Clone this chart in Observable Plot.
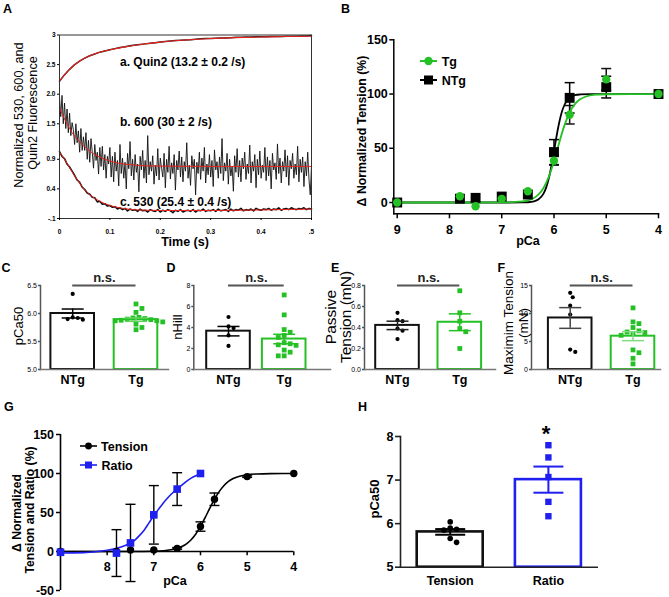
<!DOCTYPE html>
<html><head><meta charset="utf-8">
<script src="https://cdn.jsdelivr.net/npm/d3@7"></script>
<script src="https://cdn.jsdelivr.net/npm/@observablehq/plot@0.6"></script>
<style>
body{margin:0;background:#fff}
#fig{position:relative;width:669px;height:597px;overflow:hidden;background:#fff}
#fig svg{position:absolute;left:0;top:0}
</style></head><body><div id="fig"></div>
<script>
// ================= DATA =================
// Panel A: stopped-flow traces (normalized fluorescence vs time, s)
const traceAStep = 0.01;
const traceA = [
 2.22,2.33,2.42,2.50,2.56,2.61,2.65,2.68,2.71,2.73,
 2.75,2.77,2.79,2.80,2.82,2.83,2.84,2.85,2.86,2.87,
 2.88,2.89,2.90,2.905,2.91,2.915,2.92,2.93,2.935,2.94,
 2.94,2.945,2.95,2.95,2.955,2.96,2.96,2.965,2.965,2.97,
 2.97,2.97,2.975,2.975,2.975,2.98,2.98,2.98,2.985,2.985,
 2.99];
const traceBStep = 0.0025;
const traceB = [
 1.95,1.62,1.98,1.50,1.85,1.42,1.75,1.35,1.68,1.30,
 1.52,1.40,1.15,1.50,1.18,1.38,1.02,1.42,1.05,1.28,
 1.05,1.35,0.90,1.22,0.85,1.25,1.02,0.75,1.15,0.88,
 1.02,0.65,1.10,0.78,1.12,0.72,0.98,0.58,0.95,0.82,
 1.10,0.60,0.95,0.52,1.02,0.70,0.88,0.45,1.15,0.66,
 0.92,0.58,0.85,0.40,1.00,0.74,1.20,0.62,0.90,0.55,
 0.98,0.68,0.82,0.35,0.95,0.72,1.05,0.58,0.88,0.50,
 1.30,0.64,0.86,0.70,0.96,0.48,0.80,0.62,1.08,0.55,
 0.92,0.75,0.60,1.00,0.42,0.90,0.68,1.12,0.57,0.84,
 0.66,0.98,0.38,0.88,0.72,1.04,0.60,0.94,0.52,0.86,
 0.70,1.18,0.58,0.80,0.46,0.96,0.74,0.90,0.30,0.85,
 0.66,1.02,0.56,0.92,0.70,1.10,0.50,0.82,0.64,0.98,
 0.60,0.88,0.44,1.06,0.72,0.86,0.58,0.94,0.66,1.25,
 0.54,0.84,0.70,1.00,0.48,0.90,0.62,0.78,0.36,0.96,
 0.68,1.08,0.60,0.88,0.52,0.92,0.74,1.02,0.56,0.82,
 0.66,1.14,0.50,0.86,0.70,0.98,0.42,0.90,0.64,1.04,
 0.58,0.80,0.68,1.10,0.54,0.94,0.62,0.88,0.40,1.00,
 0.72,0.84,0.56,1.16,0.66,0.92,0.50,0.86,0.70,1.06,
 0.60,0.96,0.46,0.88,0.74,1.00,0.58,0.82,0.64,1.12,
 0.52,0.90,0.68,0.94,0.44,0.86,0.62,1.02,0.56,0.30,
 0.80];
const traceCStep = 0.005;
const traceC = [
 1.03,0.95,0.91,0.82,0.77,0.70,0.63,0.55,0.51,0.43,0.39,0.33,0.31,0.26,0.25,0.18,0.19,0.14,0.15,0.11,
 0.12,0.09,0.10,0.06,0.08,0.05,0.07,0.03,0.06,0.04,0.05,0.02,0.06,0.03,0.04,0.01,0.05,0.03,0.02,0.05,
 0.01,0.04,0.02,0.05,0.03,0.00,0.04,0.02,0.05,0.01,0.03,0.04,0.02,0.05,0.01,0.04,0.03,0.06,0.02,0.04,
 0.03,0.05,0.02,0.06,0.03,0.04,0.05,0.02,0.06,0.03,0.05,0.04,0.07,0.03,0.05,0.04,0.06,0.03,0.07,0.05,
 0.04,0.06,0.05,0.07,0.04,0.06,0.05,0.08,0.04,0.06,0.07,0.05,0.08,0.06,0.05,0.07,0.06,0.08,0.05,0.07,0.06];
const fitAT = [0,0.02,0.04,0.06,0.08,0.1,0.13,0.16,0.2,0.25,0.3,0.35,0.4,0.45,0.5];
const fitAV = [2.22,2.42,2.56,2.65,2.71,2.75,2.80,2.84,2.88,2.915,2.94,2.955,2.965,2.975,2.98];
const fitBT = [0,0.01,0.02,0.03,0.04,0.05,0.06,0.07,0.08,0.09,0.1,0.12,0.14,0.17,0.2,0.3,0.5];
const fitBV = [1.77,1.58,1.42,1.29,1.19,1.11,1.04,0.98,0.94,0.90,0.87,0.83,0.81,0.79,0.785,0.78,0.78];
const fitCT = [0,0.01,0.02,0.03,0.04,0.05,0.06,0.07,0.08,0.09,0.1,0.12,0.14,0.17,0.2,0.3,0.4,0.5];
const fitCV = [1.02,0.90,0.76,0.62,0.50,0.38,0.30,0.24,0.19,0.15,0.12,0.08,0.055,0.04,0.035,0.035,0.045,0.06];
const aYTicks = [3, 2.5, 2.0, 1.5, 0.9, 0.4, -0.1];
const aYTickLabels = ["3", "2.5", "2.0", "1.5", "0.9", "0.4", "-.1"];
const aXTicks = [0, 0.1, 0.2, 0.3, 0.4, 0.5];
const aXTickLabels = ["0", "0.1", "0.2", "0.3", "0.4", ".5"];
const aTraceLabels = ["a. Quin2 (13.2 \u00b1 0.2 /s)", "b. 600 (30 \u00b1 2 /s)", "c. 530 (25.4 \u00b1 0.4 /s)"];

// Panel B: pCa-tension, Tg vs NTg
const bPCa = [9, 7.8, 7.5, 7, 6.5, 6, 5.7, 5, 4];
const bTg = [0, 5.8, -3.4, 3.4, 10.4, 38.5, 80.9, 113.5, 100];
const bTgSem = [0, 0, 0, 0, 0, 4, 8.5, 10, 0];
const bNTg = [0, 3.5, 4.3, 5.5, 7.4, 46.5, 96.5, 106.4, 100];
const bNTgSem = [0, 0, 0, 0, 0, 11.5, 14, 10, 0];
const bFitTgX = [9,8,7,6.6,6.5,6.4,6.3,6.2,6.1,6.05,6.0,5.95,5.9,5.85,5.8,5.7,5.6,5.5,5.4,5.2,5,4.5,4];
const bFitTgY = [0,0,0.06,0.97,1.9,3.7,7.2,13.4,23.6,30.4,38.1,46.5,55.2,63.5,71.1,83.0,90.7,95.1,97.5,99.4,99.8,100,100];
const bFitNTgX = [9,8,7,6.6,6.4,6.3,6.2,6.15,6.1,6.05,6.0,5.95,5.9,5.85,5.8,5.75,5.7,5.6,5.5,5.3,5,4];
const bFitNTgY = [0,0,0,0.09,0.88,2.7,8.2,13.7,22,33.4,47.1,61.3,73.8,83.4,89.9,94.1,96.6,98.9,99.6,99.96,100,100];
const bXTicks = [9, 8, 7, 6, 5, 4];
const bYTicks = [0, 50, 100, 150];
const bSeries = ["Tg", "NTg"];

// Panels C-F: NTg vs Tg bar + scatter
const groups = ["NTg", "Tg"];
const cNTg = [6.35, 5.93, 5.92, 5.90, 5.89];
const cTg = [6.17, 6.09, 6.02, 5.93, 5.92, 5.91, 5.90, 5.89, 5.88, 5.87, 5.87, 5.85, 5.81, 5.75, 5.71];
const cMean = [6.00, 5.89], cSem = [0.08, 0.03];
const cTicks = [5.0, 5.5, 6.0, 6.5];
const dNTg = [5.0, 4.1, 3.95, 3.25, 2.25];
const dTg = [7.1, 5.2, 3.8, 3.55, 3.25, 3.05, 2.55, 2.45, 2.35, 2.3, 1.85, 1.65, 1.3, 1.3];
const dMean = [3.65, 2.9], dSem = [0.45, 0.45];
const dTicks = [0, 2, 4, 6, 8];
const eNTg = [0.54, 0.47, 0.46, 0.39, 0.37, 0.29];
const eTg = [0.75, 0.54, 0.46, 0.39, 0.36, 0.20];
const eMean = [0.42, 0.45], eSem = [0.04, 0.08];
const eTicks = [0, 0.2, 0.4, 0.6, 0.8];
const fNTg = [13.7, 12.9, 11.4, 9.8, 3.56, 3.13];
const fTg = [11.0, 8.5, 8.2, 7.5, 6.9, 6.7, 6.6, 6.4, 6.1, 3.5, 3.0, 2.0, 1.0];
const fMean = [9.2, 5.95], fSem = [1.85, 0.8];
const fTicks = [0, 5, 10, 15];

// Panel G: tension vs ratio
const gPCa = [9, 7.8, 7.5, 7, 6.5, 6, 5.7, 5, 4];
const gTension = [0, 0, 2, 2, 4, 32, 67, 96, 100];
const gTensionSem = [0, 0, 0, 0, 1, 6, 8, 1, 0];
const gRatioPCa = [9, 7.8, 7.5, 7, 6.5, 6];
const gRatio = [-1, -2, 11, 47, 80, 100];
const gRatioSem = [0, 30, 49.5, 37.5, 21, 0];
const gFitTensionX = [9,8,7.5,7,6.8,6.6,6.4,6.3,6.2,6.1,6.0,5.9,5.8,5.7,5.6,5.5,5.4,5.3,5.2,5.0,4.8,4.5,4];
const gFitTensionY = [0,0,0.03,0.36,0.94,2.5,6.3,9.9,15.1,22.4,32.1,43.5,55.6,67.1,76.8,84.4,89.9,93.5,95.9,98.4,99.4,99.9,100];
const gFitRatioX = [9,8.5,8.2,8,7.8,7.6,7.5,7.4,7.3,7.2,7.1,7.0,6.9,6.8,6.7,6.6,6.5,6.4,6.3,6.2,6.1,6.0];
const gFitRatioY = [-2,-1.5,0,1.5,4,8,11,15,21,28,37,46,54,62,69,75,80,85,90,94,97,99.5];
const gXTicks = [8, 7, 6, 5, 4];
const gYTicks = [-50, 0, 50, 100, 150];
const gSeries = ["Tension", "Ratio"];

// Panel H: pCa50 tension vs ratio
const hNames = ["Tension", "Ratio"];
const hTension = [6.04, 5.90, 5.87, 5.85, 5.66, 5.57];
const hRatio = [7.8, 7.52, 7.07, 6.5, 6.17];
const hMean = [5.81, 7.01], hSem = [0.065, 0.3];
const hTicks = [5, 6, 7, 8];

// ================= RENDER =================
const W = 669, H = 597;
const FONT = '"Liberation Sans", Arial, Helvetica, sans-serif';
const base = {fontFamily: FONT, background: "transparent", overflow: "visible", color: "#000"};
const GREEN = "#25c025", BLUE = "#1f1ff0", RED = "#e8211c";
const intFmt = d => String(d);
const fig = document.getElementById("fig");
const capSymbol = {draw(ctx, size) { const w = Math.sqrt(size / Math.PI); ctx.moveTo(-w, 0); ctx.lineTo(w, 0); }};

function swarm(vals, center, pxX, pxY, d) {
  const idx = d3.range(vals.length).sort((a, b) => d3.descending(vals[a], vals[b]));
  const placed = [], out = [];
  for (const i of idx) {
    const y = vals[i] * pxY;
    let off = 0;
    for (let k = 0; k < 80; k++) {
      const c = (k % 2 ? 1 : -1) * Math.ceil(k / 2) * d * 0.55;
      if (placed.every(p => Math.hypot(p.x - c, p.y - y) >= d)) { off = c; break; }
    }
    placed.push({x: off, y});
    out[i] = center + off / pxX;
  }
  return out;
}
function frameBox(l, r, t, b) {
  return {width: W, height: H, marginLeft: l, marginRight: W - r, marginTop: t, marginBottom: H - b};
}

// ---- Panel A ----
{
  const rowsA = traceA.map((v, i) => ({t: i * traceAStep, v}));
  const rowsB = traceB.map((v, i) => ({t: i * traceBStep, v}));
  const rowsC = traceC.map((v, i) => ({t: i * traceCStep, v}));
  const fa = fitAT.map((t, i) => ({t, v: fitAV[i]}));
  const fb = fitBT.map((t, i) => ({t, v: fitBV[i]}));
  const fc = fitCT.map((t, i) => ({t, v: fitCV[i]}));
  const yl = new Map(aYTicks.map((d, i) => [d, aYTickLabels[i]]));
  const xl = new Map(aXTicks.map((d, i) => [d, aXTickLabels[i]]));
  fig.append(Plot.plot({
    ...frameBox(59, 311, 34.5, 218),
    style: {...base, fontSize: "6.5px", fontWeight: "bold"},
    x: {domain: [0, 0.5]}, y: {domain: [-0.1, 3]},
    marks: [
      Plot.line(rowsA, {x: "t", y: "v", stroke: "#222", strokeWidth: 1.5}),
      Plot.line(rowsB, {x: "t", y: "v", stroke: "#111", strokeWidth: 0.9}),
      Plot.line(rowsC, {x: "t", y: "v", stroke: "#111", strokeWidth: 1.6}),
      Plot.line(fa, {x: "t", y: "v", stroke: RED, strokeWidth: 1.1, curve: "monotone-x"}),
      Plot.line(fb, {x: "t", y: "v", stroke: RED, strokeWidth: 1, curve: "monotone-x"}),
      Plot.line(fc, {x: "t", y: "v", stroke: RED, strokeWidth: 1, curve: "monotone-x"}),
      Plot.frame({stroke: "#333", strokeWidth: 1}),
      Plot.axisY({ticks: aYTicks, tickFormat: d => yl.get(d), tickSize: 2, tickPadding: 2, label: null}),
      Plot.axisX({ticks: aXTicks, tickFormat: d => xl.get(d), tickSize: 2, tickPadding: 8.5, label: null})
    ]
  }));
}

// ---- Panel B ----
{
  const tg = bPCa.map((p, i) => ({p, v: bTg[i], lo: bTg[i] - bTgSem[i], hi: bTg[i] + bTgSem[i], s: bTgSem[i]}));
  const ntg = bPCa.map((p, i) => ({p, v: bNTg[i], lo: bNTg[i] - bNTgSem[i], hi: bNTg[i] + bNTgSem[i], s: bNTgSem[i]}));
  const ftg = bFitTgX.map((p, i) => ({p, v: bFitTgY[i]}));
  const fntg = bFitNTgX.map((p, i) => ({p, v: bFitNTgY[i]}));
  const eN = ntg.filter(d => d.s > 0), eT = tg.filter(d => d.s > 0);
  fig.append(Plot.plot({
    ...frameBox(393.3, 658, 39.3, 213.3),
    style: {...base, fontSize: "12.5px", fontWeight: "bold"},
    x: {domain: [9, 4], insetLeft: 3.4}, y: {domain: [-10.4, 150]},
    marks: [
      Plot.frame({anchor: "left", strokeWidth: 1.5}),
      Plot.frame({anchor: "bottom", strokeWidth: 1.5}),
      Plot.axisY({ticks: bYTicks, tickFormat: intFmt, tickSize: 4, tickPadding: 2, strokeWidth: 1.5, label: null}),
      Plot.axisX({ticks: bXTicks, tickFormat: intFmt, tickSize: 5, tickPadding: 6, strokeWidth: 1.5, label: null}),
      Plot.ruleX(eN, {x: "p", y1: "lo", y2: "hi", stroke: "#000", strokeWidth: 1.5}),
      Plot.dot(eN, {x: "p", y: "hi", symbol: capSymbol, r: 5, stroke: "#000", fill: "none", strokeWidth: 1.5}),
      Plot.dot(eN, {x: "p", y: "lo", symbol: capSymbol, r: 5, stroke: "#000", fill: "none", strokeWidth: 1.5}),
      Plot.ruleX(eT, {x: "p", y1: "lo", y2: "hi", stroke: "#111", strokeWidth: 1.5}),
      Plot.dot(eT, {x: "p", y: "hi", symbol: capSymbol, r: 5, stroke: "#111", fill: "none", strokeWidth: 1.5}),
      Plot.dot(eT, {x: "p", y: "lo", symbol: capSymbol, r: 5, stroke: "#111", fill: "none", strokeWidth: 1.5}),
      Plot.line(fntg, {x: "p", y: "v", stroke: "#000", strokeWidth: 1.8, curve: "monotone-x"}),
      Plot.line(ftg, {x: "p", y: "v", stroke: GREEN, strokeWidth: 1.8, curve: "monotone-x"}),
      Plot.dot(ntg, {x: "p", y: "v", symbol: "square", r: 5.6, fill: "#000"}),
      Plot.dot(tg, {x: "p", y: "v", symbol: "circle", r: 4.2, fill: GREEN})
    ]
  }));
}

// ---- Bar panels (C-F, H) ----
function barPanel(o) {
  const u = o.c1 - o.c0;
  const pxY = (o.bottom - o.top) / (o.yDomain[1] - o.yDomain[0]);
  const hw = o.halfPx / u;
  const rows = o.names.map((name, i) => ({i, name, mean: o.mean[i], lo: o.mean[i] - o.sem[i], hi: o.mean[i] + o.sem[i], color: o.colors[i], err: o.errColors[i]}));
  const xs0 = swarm(o.pts0, 0, u, pxY, o.d0);
  const xs1 = swarm(o.pts1, 1, u, pxY, o.d1);
  const p0 = o.pts0.map((v, k) => ({x: xs0[k], v}));
  const p1 = o.pts1.map((v, k) => ({x: xs1[k], v}));
  const marks = [
    Plot.rectY(rows, {x1: d => d.i - hw, x2: d => d.i + hw, y1: () => o.yDomain[0], y2: "mean", fill: "white", stroke: "color", strokeWidth: o.barStroke}),
    Plot.dot(p0, {x: "x", y: "v", r: o.r0, fill: o.ptColors[0], symbol: "circle"}),
    Plot.dot(p1, {x: "x", y: "v", r: o.r1, fill: o.ptColors[1], symbol: "square"}),
    Plot.ruleX(rows, {x: "i", y1: "lo", y2: "hi", stroke: "err", strokeWidth: o.errStroke}),
    Plot.dot(rows, {x: "i", y: "hi", symbol: capSymbol, r: o.capPx, stroke: "err", fill: "none", strokeWidth: o.errStroke}),
    Plot.dot(rows, {x: "i", y: "lo", symbol: capSymbol, r: o.capPx, stroke: "err", fill: "none", strokeWidth: o.errStroke}),
    Plot.frame({anchor: "left", stroke: o.axisColor, strokeWidth: o.axisStroke}),
    Plot.frame({anchor: "bottom", stroke: o.xAxisColor, strokeWidth: o.axisStroke}),
    Plot.axisY({ticks: o.ticks, tickFormat: o.fmt, tickSize: o.tickSize, tickPadding: o.tickPadding, fontSize: o.tickFont, fontWeight: o.tickWeight, stroke: o.axisColor, strokeWidth: o.axisStroke, label: null}),
    Plot.axisX({ticks: [0, 1], tickFormat: d => o.names[d], tickSize: 0, tickPadding: o.xPad, fontSize: 12.5, fontWeight: "bold", label: null})
  ];
  if (o.ns) {
    marks.push(
      Plot.ruleY([o.yDomain[1]], {x1: () => 0, x2: () => 1, stroke: "#555", strokeWidth: 2}),
      Plot.text(["n.s."], {x: () => 0.5, y: () => o.yDomain[1], text: d => d, dy: -7.5, fontSize: 13, fontWeight: "bold", fill: "#222"})
    );
  }
  fig.append(Plot.plot({
    ...frameBox(o.left, o.right, o.top, o.bottom),
    style: {...base, fontSize: o.tickFont + "px", fontWeight: o.tickWeight},
    x: {domain: [(o.left - o.c0) / u, (o.right - o.c0) / u]},
    y: {domain: o.yDomain},
    color: {type: "identity"},
    marks
  }));
}
const smallCommon = {top: 285, bottom: 369, names: groups, colors: ["#111", GREEN], ptColors: ["#000", GREEN],
  halfPx: 21.8, barStroke: 2, errStroke: 1.5, capPx: 11, r0: 2.1, r1: 2.7, d0: 4.6, d1: 5.4,
  axisColor: "#555", xAxisColor: "#777", axisStroke: 1.5, tickSize: 2, tickPadding: 1.5, tickFont: 7, tickWeight: "normal", xPad: 5.5, ns: true};
barPanel({...smallCommon, left: 40, right: 168, c0: 72.2, c1: 135.5, yDomain: [5, 6.5], ticks: cTicks, fmt: d3.format(".1f"),
  mean: cMean, sem: cSem, pts0: cNTg, pts1: cTg, errColors: ["#000", "#5fd35f"]});
barPanel({...smallCommon, left: 193.3, right: 330, c0: 228, c1: 283.7, yDomain: [0, 8], ticks: dTicks, fmt: d3.format("d"),
  mean: dMean, sem: dSem, pts0: dNTg, pts1: dTg, errColors: ["#000", GREEN]});
barPanel({...smallCommon, left: 364, right: 495, c0: 397, c1: 459.3, yDomain: [0, 0.8], ticks: eTicks, fmt: d3.format(".1f"),
  mean: eMean, sem: eSem, pts0: eNTg, pts1: eTg, errColors: ["#222", GREEN]});
barPanel({...smallCommon, left: 531, right: 660, c0: 569.7, c1: 632.5, yDomain: [0, 15], ticks: fTicks, fmt: d3.format("d"),
  mean: fMean, sem: fSem, pts0: fNTg, pts1: fTg, errColors: ["#444", "#7fdc7f"]});
barPanel({top: 436, bottom: 566.7, left: 400, right: 596.7, c0: 449.7, c1: 547.9, names: hNames,
  colors: ["#111", BLUE], ptColors: ["#000", BLUE], halfPx: 33, barStroke: 2.6, errStroke: 2, capPx: 15,
  r0: 2.8, r1: 3.6, d0: 5.8, d1: 6.5, axisColor: "#222", xAxisColor: "#222", axisStroke: 1.6,
  tickSize: 5, tickPadding: 2, tickFont: 12.5, tickWeight: "bold", xPad: 9, ns: false,
  yDomain: [5, 8], ticks: hTicks, fmt: d3.format("d"), mean: hMean, sem: hSem, pts0: hTension, pts1: hRatio,
  errColors: ["#000", BLUE]});

// ---- Panel G ----
{
  const ten = gPCa.map((p, i) => ({p, v: gTension[i], lo: gTension[i] - gTensionSem[i], hi: gTension[i] + gTensionSem[i], s: gTensionSem[i]}));
  const rat = gRatioPCa.map((p, i) => ({p, v: gRatio[i], lo: gRatio[i] - gRatioSem[i], hi: gRatio[i] + gRatioSem[i], s: gRatioSem[i]}));
  const errs = ten.filter(d => d.s > 0).concat(rat.filter(d => d.s > 0));
  const fT = gFitTensionX.map((p, i) => ({p, v: gFitTensionY[i]}));
  const fR = gFitRatioX.map((p, i) => ({p, v: gFitRatioY[i]}));
  const gX = [9, 4], gY = [-50, 150];
  fig.append(Plot.plot({
    ...frameBox(60, 293.3, 434, 551.3),
    style: {...base, fontSize: "12.5px", fontWeight: "bold"},
    x: {domain: gX}, y: {domain: gY, range: [590, 434]},
    marks: [
      Plot.ruleX([gX[0]], {y1: () => gY[0], y2: () => gY[1], strokeWidth: 1.6}),
      Plot.ruleY([0], {strokeWidth: 1.6}),
      Plot.axisY({ticks: gYTicks, tickFormat: intFmt, tickSize: 4, tickPadding: 2.5, strokeWidth: 1.5, label: null}),
      Plot.axisX({ticks: gXTicks, tickFormat: intFmt, tickSize: 4, tickPadding: 6, strokeWidth: 1.5, label: null}),
      Plot.line(fT, {x: "p", y: "v", stroke: "#000", strokeWidth: 1.6, curve: "monotone-x"}),
      Plot.line(fR, {x: "p", y: "v", stroke: BLUE, strokeWidth: 1.6, curve: "monotone-x"}),
      Plot.ruleX(errs, {x: "p", y1: "lo", y2: "hi", stroke: "#000", strokeWidth: 1.4}),
      Plot.dot(errs, {x: "p", y: "hi", symbol: capSymbol, r: 5, stroke: "#000", fill: "none", strokeWidth: 1.4}),
      Plot.dot(errs, {x: "p", y: "lo", symbol: capSymbol, r: 5, stroke: "#000", fill: "none", strokeWidth: 1.4}),
      Plot.dot(ten, {x: "p", y: "v", symbol: "circle", r: 3.7, fill: "#000"}),
      Plot.dot(rat, {x: "p", y: "v", symbol: "square", r: 4.3, fill: BLUE})
    ]
  }));
}

// ---- Annotations (titles, legends, panel letters) ----
const ann = d3.select(fig).append("svg").attr("width", W).attr("height", H)
  .style("font-family", FONT).style("pointer-events", "none");
function label(x, y, s, size, weight = "bold", anchor = "start", rot = false, fill = "#000") {
  const t = ann.append("text").attr("x", x).attr("y", y).text(s)
    .attr("font-size", size).attr("font-weight", weight).attr("text-anchor", anchor).attr("fill", fill);
  if (rot) t.attr("transform", `rotate(-90 ${x} ${y})`);
}
[["A", 3, 12.5], ["B", 341, 12.5], ["C", 1.5, 272], ["D", 166.5, 272], ["E", 331, 272], ["F", 497.5, 272], ["G", 4, 410.5], ["H", 358, 410.5]]
  .forEach(([s, x, y]) => label(x, y, s, 12.5));
// A
label(23, 115, "Normalized 530, 600, and", 12.7, "normal", "middle", true);
label(37, 113, "Quin2 Fluorescence", 12.7, "normal", "middle", true);
label(185, 246, "Time (s)", 12.5, "bold", "middle");
label(120, 66, aTraceLabels[0], 12);
label(120, 125.5, aTraceLabels[1], 12);
label(120, 205.5, aTraceLabels[2], 12);
// B
label(366, 131, "\u0394 Normalized Tension (%)", 12.3, "bold", "middle", true);
label(528, 245, "pCa", 12.5, "bold", "middle");
ann.append("line").attr("x1", 420).attr("x2", 437).attr("y1", 61).attr("y2", 61).attr("stroke", GREEN).attr("stroke-width", 2);
ann.append("circle").attr("cx", 428.5).attr("cy", 61).attr("r", 4.2).attr("fill", GREEN);
label(441.7, 65.5, bSeries[0], 12.5);
ann.append("line").attr("x1", 420).attr("x2", 437).attr("y1", 80).attr("y2", 80).attr("stroke", "#000").attr("stroke-width", 2);
ann.append("rect").attr("x", 424).attr("y", 75.5).attr("width", 9).attr("height", 9).attr("fill", "#000");
label(441.7, 84.5, bSeries[1], 12.5);
// C-F titles
label(22.5, 326, "pCa50", 13, "normal", "middle", true);
label(181.5, 327, "nHill", 13, "normal", "middle", true);
label(335.5, 317, "Passive", 15.5, "normal", "middle", true);
label(351, 317, "Tension (mN)", 15.5, "normal", "middle", true);
label(512.5, 323, "Maximim Tension", 13.5, "normal", "middle", true);
label(527.5, 323, "(mN)", 13.5, "normal", "middle", true);
// G
label(20.5, 513, "\u0394 Normalized", 12.2, "bold", "middle", true);
label(33.5, 510, "Tension and Ratio (%)", 12.2, "bold", "middle", true);
label(175, 585, "pCa", 12.5, "bold", "middle");
ann.append("line").attr("x1", 80).attr("x2", 97).attr("y1", 446).attr("y2", 446).attr("stroke", "#000").attr("stroke-width", 1.6);
ann.append("circle").attr("cx", 88.5).attr("cy", 446).attr("r", 3.4).attr("fill", "#000");
label(101, 450.5, gSeries[0], 12.5);
ann.append("line").attr("x1", 80).attr("x2", 97).attr("y1", 465).attr("y2", 465).attr("stroke", BLUE).attr("stroke-width", 1.6);
ann.append("rect").attr("x", 85).attr("y", 461.5).attr("width", 7).attr("height", 7).attr("fill", BLUE);
label(101.5, 469.5, gSeries[1], 12.5);
// H
label(378.5, 499, "pCa50", 13, "bold", "middle", true);
label(546, 441, "*", 22, "bold", "middle");
</script></body></html>
